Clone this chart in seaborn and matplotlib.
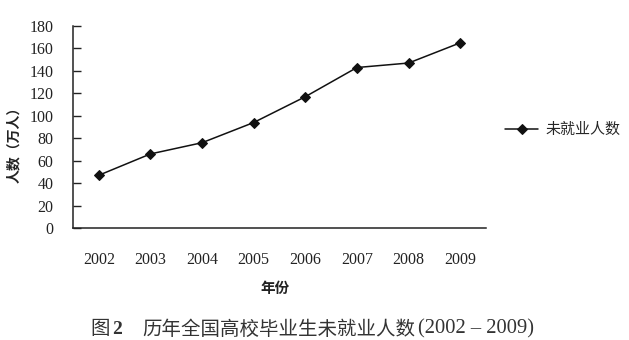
import matplotlib
matplotlib.use("Agg")
import matplotlib.pyplot as plt
import seaborn as sns
import pandas as pd
import numpy as np

years = ["2002", "2003", "2004", "2005", "2006", "2007", "2008", "2009"]
unemployed = [47, 66, 76, 94, 117, 143, 147, 165]
series_name = "未就业人数"
y_ticks = [0, 20, 40, 60, 80, 100, 120, 140, 160, 180]

sns.set_theme(style="white")
plt.rcParams["font.family"] = ["Liberation Serif", "Noto Sans CJK SC", "DejaVu Sans"]

df = pd.DataFrame({"pos": np.arange(len(years)), "value": unemployed, "series": series_name})

W, H = 629, 340
fig = plt.figure(figsize=(W / 100, H / 100), dpi=100)
ax = fig.add_axes([73 / W, 1 - 228 / H, (486 - 73) / W, (228 - 26) / H])

sns.lineplot(data=df, x="pos", y="value", hue="series", palette=["#111111"],
             marker="D", markersize=5, markeredgecolor="#111111", linewidth=1.1,
             ax=ax, legend=True)

ax.set_xlim(-0.5, len(years) - 0.5)
ax.set_ylim(0, 180)
ax.set_yticks(y_ticks)
ax.set_yticklabels([str(t) for t in y_ticks], fontsize=11.5, color="#222222")
ax.set_xticks(np.arange(-0.5, len(years), 1.0))
ax.set_xticklabels([])
ax.set_xticks(np.arange(len(years)), minor=True)
ax.set_xticklabels(years, minor=True, fontsize=11.5, color="#222222")
ax.tick_params(axis="x", which="major", direction="in", length=6, width=1, color="#222222")
ax.tick_params(axis="x", which="minor", length=0, pad=17)
ax.tick_params(axis="y", which="major", direction="in", length=6, width=1, color="#222222", pad=14, left=True)

for s in ["top", "right"]:
    ax.spines[s].set_visible(False)
for s in ["left", "bottom"]:
    ax.spines[s].set_color("#222222")
    ax.spines[s].set_linewidth(1.1)

ax.set_xlabel("年份", fontsize=10.5, fontweight="bold", family=["Noto Sans CJK SC"], color="#222222")
ax.set_ylabel("人数（万人）", fontsize=10, fontweight="bold", family=["Noto Sans CJK SC"], color="#222222")
ax.xaxis.set_label_coords((275 - 73) / 413, (228 - 280) / 202)
ax.yaxis.set_label_coords((21 - 73) / 413, (228 - 141) / 202)

handles, labels = ax.get_legend_handles_labels()
ax.legend(handles, labels, loc="center left", bbox_to_anchor=(505 / W, 1 - 130 / H),
          bbox_transform=fig.transFigure, frameon=False, borderpad=0, borderaxespad=0,
          handlelength=2.2, handletextpad=0.5,
          prop={"family": ["Noto Sans CJK SC"], "size": 10.8})

title_y = 1 - 329 / H
fig.text(90 / W, title_y, "图", fontsize=14, family=["Noto Sans CJK SC"], color="#333333", va="center")
fig.text(112 / W, title_y, "2", fontsize=14, fontweight="bold", color="#333333", va="center")
fig.text(142 / W, title_y, "历年全国高校毕业生未就业人数", fontsize=14,
         family=["Noto Sans CJK SC"], color="#333333", va="center")
fig.text(418 / W, title_y, "(2002 – 2009)", fontsize=14.8,
         family=["Liberation Serif"], color="#333333", va="center")

fig.savefig("out.png", dpi=100)
